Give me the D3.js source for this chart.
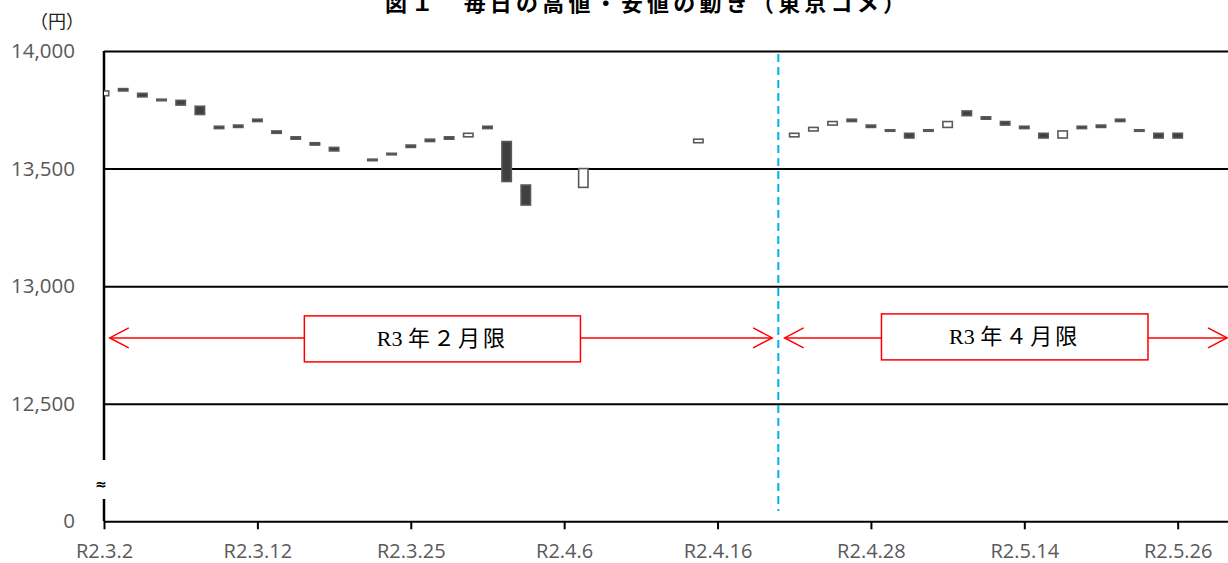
<!DOCTYPE html>
<html lang="ja">
<head>
<meta charset="UTF-8">
<title>図１ 毎日の高値・安値の動き（東京コメ）</title>
<script src="https://cdnjs.cloudflare.com/ajax/libs/d3/7.9.0/d3.min.js"></script>
<style>
  body { margin: 0; background: #fff; }
  svg { display: block; }
</style>
</head>
<body>
<svg id="chart" width="1228" height="563"></svg>
<script>
// trading days, R2.3.2 .. R2.5.29
const days = [
  "R2.3.2","R2.3.3","R2.3.4","R2.3.5","R2.3.6","R2.3.9","R2.3.10","R2.3.11","R2.3.12","R2.3.13",
  "R2.3.16","R2.3.17","R2.3.18","R2.3.19","R2.3.23","R2.3.24","R2.3.25","R2.3.26","R2.3.27","R2.3.30",
  "R2.3.31","R2.4.1","R2.4.2","R2.4.3","R2.4.6","R2.4.7","R2.4.8","R2.4.9","R2.4.10","R2.4.13",
  "R2.4.14","R2.4.15","R2.4.16","R2.4.17","R2.4.20","R2.4.21","R2.4.22","R2.4.23","R2.4.24","R2.4.27",
  "R2.4.28","R2.4.30","R2.5.1","R2.5.7","R2.5.8","R2.5.11","R2.5.12","R2.5.13","R2.5.14","R2.5.15",
  "R2.5.18","R2.5.19","R2.5.20","R2.5.21","R2.5.22","R2.5.25","R2.5.26","R2.5.27","R2.5.28","R2.5.29"
];
// start / end price of each day's box (null = no trade)
const openVals = [
  13810,13840,13820,13795,13790,13765,13680,13685,13710,13660,
  13635,13610,13590,null,13540,13565,13600,13625,13635,13635,
  13680,13615,13430,null,null,13420,null,null,null,null,
  null,13610,null,null,null,null,13635,13660,13685,13710,
  13685,13665,13650,13665,13675,13745,13720,13700,13680,13650,
  13630,13680,13685,13710,13665,13650,13650,null,null,null
];
const closeVals = [
  13830,13830,13805,13790,13770,13730,13670,13675,13700,13650,
  13625,13600,13575,null,13535,13560,13590,13615,13625,13650,
  13670,13445,13345,null,null,13500,null,null,null,null,
  null,13625,null,null,null,null,13650,13675,13700,13700,
  13675,13660,13630,13660,13700,13725,13710,13685,13670,13630,
  13660,13670,13675,13700,13660,13630,13630,null,null,null
];
const yTicks = [12000, 12500, 13000, 13500, 14000];
const yTickLabels = ["0", "12,500", "13,000", "13,500", "14,000"];
const labelEvery = 8;
const contractSwitch = 35.17;   // 限月切替え (index position)
const periods = [
  { head: "R3", label: "年２月限", from: 0.3, to: 34.85, boxFrom: 10.45, boxTo: 24.85, dy: 0 },
  { head: "R3", label: "年４月限", from: 35.5, to: 58.6, boxFrom: 40.55, boxTo: 54.45, dy: -2 }
];
const arrowValue = 12780;

const W = 1228, H = 563;
const plotLeft = 104, plotTop = 51, plotBottom = 521.3;
const step = 19.173;

const svg = d3.select("#chart");

const x = d3.scaleLinear().domain([0, days.length - 1]).range([plotLeft, plotLeft + step * (days.length - 1)]);
const y = d3.scaleLinear().domain([12000, 14000]).range([plotBottom, plotTop]);

svg.append("defs").append("clipPath").attr("id", "plot")
  .append("rect").attr("x", plotLeft).attr("y", 0).attr("width", W - plotLeft).attr("height", H);

// gridlines
svg.append("g")
  .attr("transform", `translate(${plotLeft},0)`)
  .call(d3.axisLeft(y).tickValues(yTicks).tickSize(-(W - plotLeft)).tickFormat(""))
  .call(g => g.select(".domain").remove())
  .call(g => g.selectAll("line").attr("stroke", "#000").attr("stroke-width", 2));

// y labels
svg.append("g")
  .attr("transform", `translate(${plotLeft},0)`)
  .call(d3.axisLeft(y).tickValues(yTicks).tickSize(0).tickPadding(29)
    .tickFormat((d, i) => yTickLabels[i]))
  .call(g => g.select(".domain").remove())
  .call(g => g.selectAll("text")
    .attr("font-family", "'Open Sans', sans-serif").attr("font-size", 20.5).attr("fill", "#595959"));

// x axis ticks + labels
const xTickIdx = d3.range(0, days.length, labelEvery);
svg.append("g")
  .attr("transform", `translate(0,${plotBottom})`)
  .call(d3.axisBottom(x).tickValues(xTickIdx).tickSize(8).tickPadding(15)
    .tickFormat(i => days[i]))
  .call(g => g.select(".domain").remove())
  .call(g => g.selectAll("line").attr("stroke", "#000").attr("stroke-width", 2))
  .call(g => g.selectAll("text")
    .attr("font-family", "'Open Sans', sans-serif").attr("font-size", 20).attr("fill", "#595959"));

// broken y axis line
const breakTop = 460, breakBot = 499;
svg.append("line").attr("x1", plotLeft).attr("x2", plotLeft).attr("y1", plotTop).attr("y2", breakTop)
  .attr("stroke", "#000").attr("stroke-width", 2.5);
svg.append("line").attr("x1", plotLeft).attr("x2", plotLeft).attr("y1", breakBot).attr("y2", plotBottom)
  .attr("stroke", "#000").attr("stroke-width", 2.5);
svg.append("text").attr("x", plotLeft - 3).attr("y", 489).attr("text-anchor", "middle")
  .attr("font-family", "'DejaVu Sans', sans-serif").attr("font-size", 14).attr("font-weight", "bold")
  .text("≈");

// contract switch line
svg.append("line")
  .attr("x1", x(contractSwitch)).attr("x2", x(contractSwitch))
  .attr("y1", plotTop + 3).attr("y2", 511)
  .attr("stroke", "#00B0F0").attr("stroke-width", 2).attr("stroke-dasharray", "8,5");

// candles
const candles = days.map((d, i) => ({ i, o: openVals[i], c: closeVals[i] })).filter(d => d.o != null);
const bw = 9.4;
svg.append("g").attr("clip-path", "url(#plot)")
  .selectAll("rect").data(candles).join("rect")
  .attr("x", d => x(d.i) - bw / 2)
  .attr("y", d => y(Math.max(d.o, d.c)))
  .attr("width", bw)
  .attr("height", d => Math.max(1.5, Math.abs(y(d.o) - y(d.c))))
  .attr("fill", d => d.c > d.o ? "#fff" : "#404040")
  .attr("stroke", "#595959").attr("stroke-width", 1.6);

// period arrows
const ay = y(arrowValue);
const red = "#FF0000";
const head = 19, hh = 10;
const ann = svg.append("g");
periods.forEach(p => {
  const x1 = x(p.from), x2 = Math.min(x(p.to), W - 1);
  ann.append("line").attr("x1", x1).attr("x2", x2).attr("y1", ay).attr("y2", ay)
    .attr("stroke", red).attr("stroke-width", 1.5);
  ann.append("path").attr("d", `M${x1 + head},${ay - hh}L${x1},${ay}L${x1 + head},${ay + hh}`)
    .attr("fill", "none").attr("stroke", red).attr("stroke-width", 1.5);
  ann.append("path").attr("d", `M${x2 - head},${ay - hh}L${x2},${ay}L${x2 - head},${ay + hh}`)
    .attr("fill", "none").attr("stroke", red).attr("stroke-width", 1.5);
  const bx1 = x(p.boxFrom), bx2 = x(p.boxTo);
  ann.append("rect").attr("x", bx1).attr("y", ay - 22 + p.dy).attr("width", bx2 - bx1).attr("height", 46)
    .attr("fill", "#fff").attr("stroke", red).attr("stroke-width", 1.5);
  const t = ann.append("text").attr("x", (bx1 + bx2) / 2).attr("y", ay + 8 + p.dy).attr("text-anchor", "middle")
    .attr("font-family", "'Liberation Serif', 'Noto Sans CJK JP', serif").attr("font-size", 22)
    .attr("fill", "#000");
  t.append("tspan").text(p.head + " ");
  t.append("tspan").attr("letter-spacing", 3).text(p.label);
});

// unit + title
svg.append("text").attr("x", 57).attr("y", 28).attr("text-anchor", "middle")
  .attr("font-family", "'Noto Sans CJK JP', sans-serif").attr("font-size", 18).attr("fill", "#222")
  .text("（円）");
svg.append("text").attr("x", 385).attr("y", 11)
  .attr("font-family", "'Noto Sans CJK JP', sans-serif").attr("font-size", 22).attr("font-weight", "bold")
  .attr("fill", "#000").attr("textLength", 520).attr("lengthAdjust", "spacing")
  .text("図１　毎日の高値・安値の動き（東京コメ）");
</script>
</body>
</html>
